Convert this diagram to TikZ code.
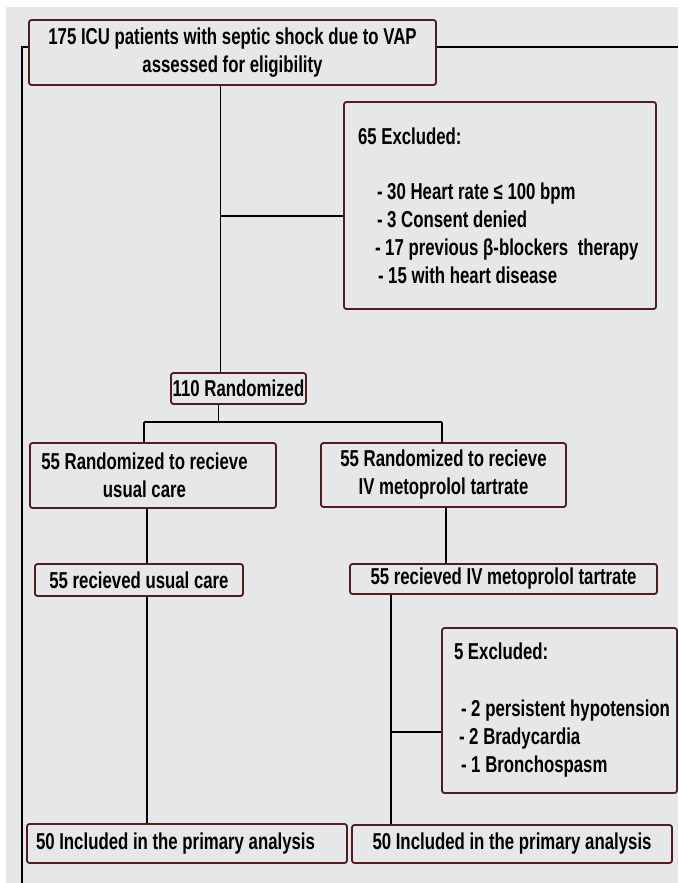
\documentclass[tikz,border=0pt]{standalone}
\usepackage{fontspec}
\newfontfamily\agency[FakeStretch=0.73]{Liberation Sans}
\definecolor{bg}{RGB}{230,231,233}
\definecolor{boxc}{RGB}{82,28,28}
\begin{document}
\begin{tikzpicture}[x=1pt,y=-1pt,
  box/.style={draw=boxc, fill=bg, line width=1.8pt, rounded corners=2.5pt, inner sep=0pt,
    font=\agency\bfseries\fontsize{23}{28}\selectfont},
  conn/.style={draw=black, line width=1.6pt}]
\useasboundingbox (0,0) rectangle (678,883);
\fill[bg] (6,7) rectangle (678,883);

% boxes
\node[box, minimum width=407pt, minimum height=65pt, align=center] (b1) at (232.5,52.5)
  {175 ICU patients with septic shock due to VAP\\assessed for eligibility};
\node[box, minimum width=312pt, minimum height=207pt, text width=284pt, inner xsep=14pt, align=flush left] (ex1) at (500,205.5)
  {\mbox{65 Excluded:}\\[27pt]
   \mbox{\hspace*{19pt}- 30 Heart rate ≤ 100 bpm}\\
   \mbox{\hspace*{19pt}- 3 Consent denied}\\
   \mbox{\hspace*{17pt}- 17 previous β-blockers\hspace{5pt} therapy}\\
   \mbox{\hspace*{20pt}- 15 with heart disease}};
\node[box, minimum width=135pt, minimum height=31pt, align=center] (rand) at (238.5,388.5) {110 Randomized};
\node[box, minimum width=246pt, minimum height=65pt, align=center] (L1) at (153,475.5)
  {55 Randomized to recieve\hspace*{17pt}\\usual care\hspace*{17pt}};
\node[box, minimum width=245pt, minimum height=64pt, align=center] (R1) at (443.5,475)
  {55 Randomized to recieve\\IV metoprolol tartrate};
\node[box, minimum width=208pt, minimum height=32pt, align=center] (L2) at (139,580) {55 recieved usual care};
\node[box, minimum width=307pt, minimum height=30pt, align=center] (R2) at (503.5,579) {55 recieved IV metoprolol tartrate};
\node[box, minimum width=235pt, minimum height=165pt, text width=211pt, inner xsep=12pt, align=flush left] (ex2) at (559.5,710.5)
  {\mbox{5 Excluded:}\\[29pt]
   \mbox{\hspace*{7pt}- 2 persistent hypotension}\\
   \mbox{\hspace*{5pt}- 2 Bradycardia}\\
   \mbox{\hspace*{7pt}- 1 Bronchospasm}};
\node[box, minimum width=320pt, minimum height=39pt, text width=302pt, inner xsep=9pt, align=flush left] (L3) at (187,843.5)
  {\mbox{50 Included in the primary analysis}};
\node[box, minimum width=320pt, minimum height=38pt, align=center] (R3) at (512,844)
  {50 Included in the primary analysis};

% frame lines
\coordinate (fbl) at (22,883);
\coordinate (ftr) at (678,47);
\draw[conn] (fbl) -- (fbl |- ftr) -- (ftr -| b1.west);
\draw[conn] (ftr -| b1.east) -- (ftr);

% main spine
\coordinate (s1) at (220.5,0);
\draw[conn] (b1.south -| s1) -- (rand.north -| s1);
\coordinate (j1) at (220.5,216);
\draw[conn] (j1) -- (j1 -| ex1.west);

% split
\coordinate (sp) at (218.5,422);
\coordinate (spl) at (144,422);
\coordinate (spr) at (442,422);
\draw[conn] (rand.south -| sp) -- (sp);
\draw[conn] (spl) -- (spr);
\draw[conn] (spl) -- (spl |- L1.north);
\draw[conn] (spr) -- (spr |- R1.north);

% left chain
\coordinate (lc) at (147,0);
\draw[conn] (L1.south -| lc) -- (L2.north -| lc);
\draw[conn] (L2.south -| lc) -- (L3.north -| lc);

% right chain
\coordinate (rc) at (446,0);
\draw[conn] (R1.south -| rc) -- (R2.north -| rc);
\coordinate (rc2) at (391,0);
\draw[conn] (R2.south -| rc2) -- (R3.north -| rc2);
\coordinate (j2) at (391,732);
\draw[conn] (j2) -- (j2 -| ex2.west);
\end{tikzpicture}
\end{document}
